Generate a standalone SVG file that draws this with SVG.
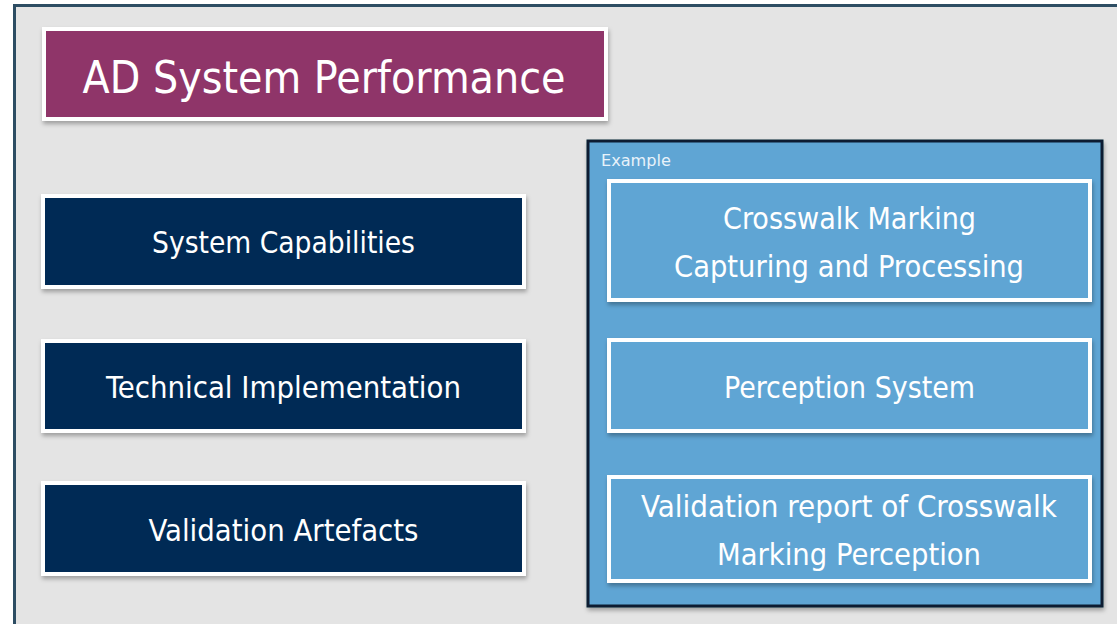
<svg xmlns="http://www.w3.org/2000/svg" width="1117" height="624" viewBox="0 0 1117 624">
<style>
.t{font-family:"DejaVu Sans Condensed","DejaVu Sans","Liberation Sans",sans-serif;font-stretch:condensed;fill:#ffffff;text-anchor:middle}
.box{stroke:#ffffff;stroke-width:4;filter:url(#sh)}
.navy{fill:#032b54}
.lb{fill:#5ea5d4}
</style>
<defs>
<filter id="sh" x="-5%" y="-10%" width="110%" height="130%">
<feDropShadow dx="1" dy="3" stdDeviation="2" flood-color="#000" flood-opacity="0.3"/>
</filter>
</defs>
<rect x="0" y="0" width="1117" height="624" fill="#ffffff"/>
<rect id="frame" x="14.5" y="5.5" width="1120" height="640" fill="#e4e4e4" stroke="#2d4d63" stroke-width="3"/>
<g id="title">
<rect class="box" x="44" y="29" width="562" height="90" fill="#8f3469"/>
<text class="t" x="324" y="93" font-size="44" textLength="483" lengthAdjust="spacingAndGlyphs">AD System Performance</text>
</g>
<g id="capabilities">
<rect class="box navy" x="43" y="196" width="481" height="91"/>
<text class="t" x="283.5" y="253" font-size="30" textLength="263" lengthAdjust="spacingAndGlyphs">System Capabilities</text>
</g>
<g id="implementation">
<rect class="box navy" x="43" y="341" width="481" height="90"/>
<text class="t" x="283.5" y="398" font-size="30" textLength="355" lengthAdjust="spacingAndGlyphs">Technical Implementation</text>
</g>
<g id="artefacts">
<rect class="box navy" x="43" y="483" width="481" height="91"/>
<text class="t" x="283.5" y="541" font-size="30" textLength="270" lengthAdjust="spacingAndGlyphs">Validation Artefacts</text>
</g>
<g id="example">
<rect x="588" y="141" width="514" height="465" fill="#5ea5d4" stroke="#0c1e33" stroke-width="3" filter="url(#sh)"/>
<text x="601" y="166" font-size="15" font-family="DejaVu Sans Condensed,DejaVu Sans,sans-serif" style="font-stretch:condensed" fill="#e8f2fa" textLength="70" lengthAdjust="spacingAndGlyphs">Example</text>
</g>
<g id="crosswalk">
<rect class="box lb" x="609" y="181" width="481" height="119"/>
<text class="t" x="849.5" y="229" font-size="30" textLength="253" lengthAdjust="spacingAndGlyphs">Crosswalk Marking</text>
<text class="t" x="849" y="277" font-size="30" textLength="350" lengthAdjust="spacingAndGlyphs">Capturing and Processing</text>
</g>
<g id="perception">
<rect class="box lb" x="609" y="340" width="481" height="91"/>
<text class="t" x="849.5" y="398" font-size="30" textLength="251" lengthAdjust="spacingAndGlyphs">Perception System</text>
</g>
<g id="report">
<rect class="box lb" x="609" y="477" width="481" height="104"/>
<text class="t" x="849" y="517" font-size="30" textLength="416" lengthAdjust="spacingAndGlyphs">Validation report of Crosswalk</text>
<text class="t" x="849" y="565" font-size="30" textLength="264" lengthAdjust="spacingAndGlyphs">Marking Perception</text>
</g>
<g id="connectors"></g>
</svg>
